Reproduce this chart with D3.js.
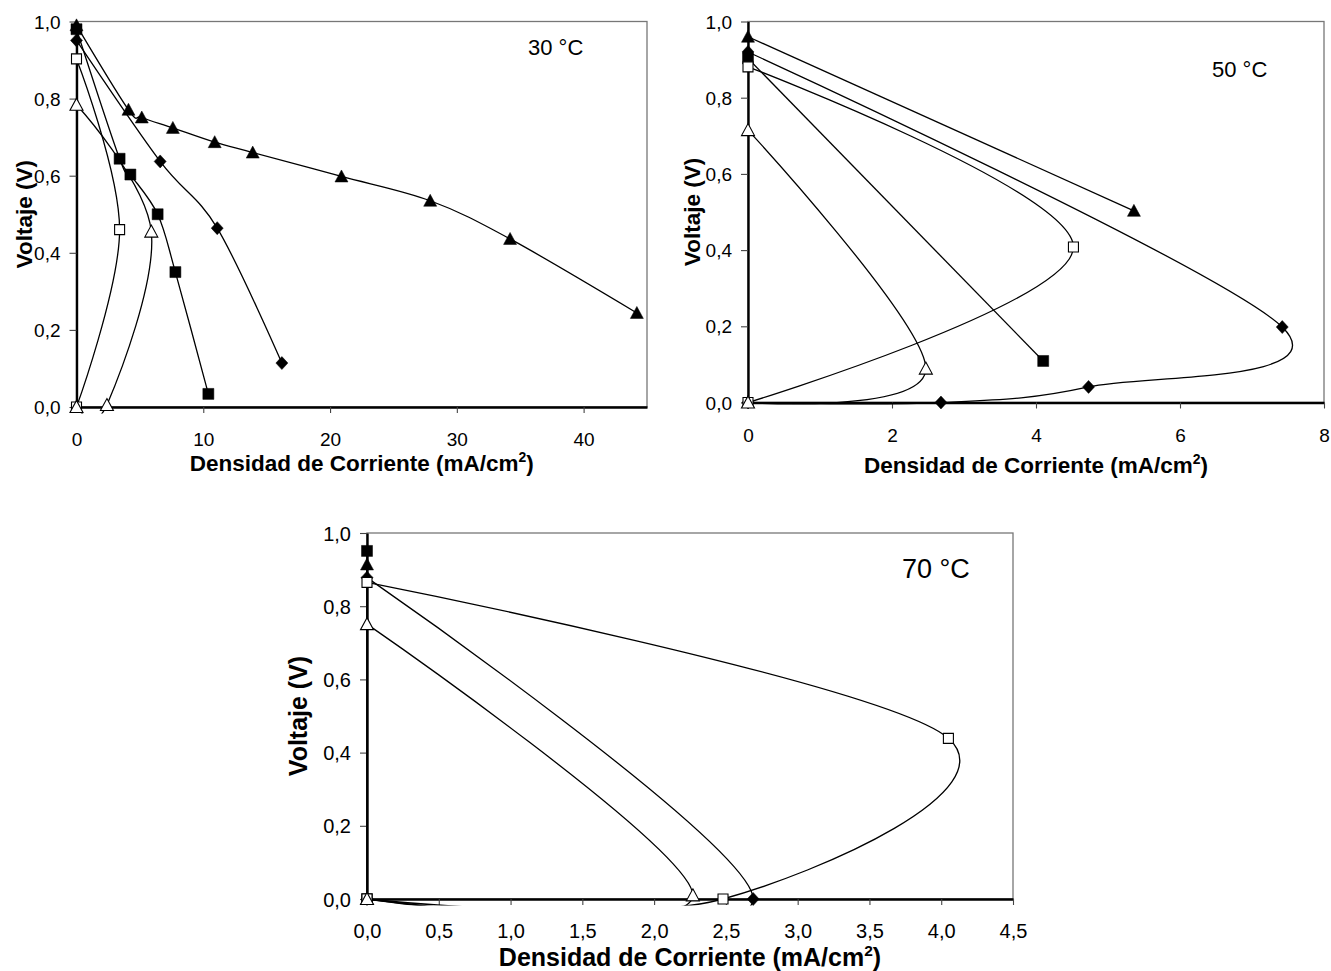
<!DOCTYPE html>
<html>
<head>
<meta charset="utf-8">
<script src="https://cdn.jsdelivr.net/npm/d3@7"></script>
<style>
  body { margin: 0; background: #fff; }
  svg { display: block; }
  svg text { font-family: "Liberation Sans", Arial, sans-serif; fill: #000; }
</style>
</head>
<body>
<svg id="fig" width="1331" height="971"></svg>
<script>
// voltage ticks, shared by the three panels
var voltTicks = [0, 0.2, 0.4, 0.6, 0.8, 1.0];

// 30 °C  -> [current density mA/cm2, voltage V]
var curTicks30 = [0, 10, 20, 30, 40];
var v30TriFull = [[0, 0.99], [4.1, 0.771], [5.15, 0.751], [7.6, 0.724], [10.9, 0.687], [13.9, 0.66], [20.9, 0.598], [27.9, 0.535], [34.2, 0.436], [44.2, 0.244]];
var v30Diamond = [[0, 0.951], [6.6, 0.637], [11.1, 0.464], [16.2, 0.114]];
var v30SqFull  = [[0, 0.98], [3.4, 0.644], [4.25, 0.603], [6.4, 0.50], [7.8, 0.35], [10.4, 0.034]];
var v30SqOpen  = [[0, 0.903], [3.4, 0.46], [0, 0]];
var v30TriOpen = [[0, 0.784], [5.9, 0.455], [2.4, 0.005], [0, 0]];

// 50 °C
var curTicks50 = [0, 2, 4, 6, 8];
var v50TriFull = [[0, 0.96], [5.36, 0.503]];
var v50Diamond = [[0, 0.92], [7.42, 0.198], [4.73, 0.041], [2.68, 0], [0, 0]];
var v50SqFull  = [[0, 0.903], [4.1, 0.109]];
var v50SqOpen  = [[0, 0.881], [4.52, 0.408], [0, 0]];
var v50TriOpen = [[0, 0.715], [2.47, 0.089], [0, 0]];

// 70 °C
var curTicks70 = [0, 0.5, 1.0, 1.5, 2.0, 2.5, 3.0, 3.5, 4.0, 4.5];
var v70SqFull  = [[0, 0.951], [0, 0]];
var v70TriFull = [[0, 0.914], [0, 0]];
var v70Diamond = [[0, 0.878], [2.69, 0], [0, 0]];
var v70SqOpen  = [[0, 0.865], [4.05, 0.439], [2.48, 0], [0, 0]];
var v70TriOpen = [[0, 0.751], [2.27, 0.01], [0, 0]];

var svg = d3.select("#fig");
var comma1 = function(d) { return d3.format(".1f")(d).replace(".", ","); };

var shapes = {
  square: "M-5.5,-5.5h11v11h-11Z",
  squareOpen: "M-5,-5h10v10h-10Z",
  triangle: "M0,-6.5L6.5,5.5L-6.5,5.5Z",
  diamond: "M0,-6.5L6,0L0,6.5L-6,0Z"
};

function seriesList(triFull, diamond, sqFull, sqOpen, triOpen) {
  return [
    {data: triFull, shape: "triangle", open: false},
    {data: diamond, shape: "diamond", open: false},
    {data: sqFull, shape: "square", open: false},
    {data: sqOpen, shape: "squareOpen", open: true},
    {data: triOpen, shape: "triangle", open: true}
  ];
}

var panels = [
  {id: "p30", label: "30 °C", labelX: 528, labelY: 55, labelSize: 22,
   left: 76.5, right: 647, top: 21.5, bottom: 407, xMax: 45,
   xTicks: curTicks30, xFormat: d3.format("d"),
   tickFont: 19, titleFont: 22.5, xTitleY: 471, yTitleX: 32,
   series: seriesList(v30TriFull, v30Diamond, v30SqFull, v30SqOpen, v30TriOpen)},
  {id: "p50", label: "50 °C", labelX: 1212, labelY: 77, labelSize: 22,
   left: 748, right: 1324, top: 21.5, bottom: 402.5, xMax: 8,
   xTicks: curTicks50, xFormat: d3.format("d"),
   tickFont: 19, titleFont: 22.5, xTitleY: 473, yTitleX: 700,
   series: seriesList(v50TriFull, v50Diamond, v50SqFull, v50SqOpen, v50TriOpen)},
  {id: "p70", label: "70 °C", labelX: 902, labelY: 578, labelSize: 27,
   left: 367, right: 1013, top: 533, bottom: 899, xMax: 4.5,
   xTicks: curTicks70, xFormat: comma1,
   tickFont: 20, titleFont: 25, xTitleY: 966, yTitleX: 307,
   series: seriesList(v70TriFull, v70Diamond, v70SqFull, v70SqOpen, v70TriOpen)}
];

function drawPanel(p) {
  var x = d3.scaleLinear().domain([0, p.xMax]).range([p.left, p.right]);
  var y = d3.scaleLinear().domain([0, 1]).range([p.bottom, p.top]);
  var g = svg.append("g").attr("class", "panel " + p.id);

  // lines are clipped a few px outside the plot area, like the original
  svg.append("clipPath").attr("id", "clip-" + p.id)
    .append("rect")
    .attr("x", p.left - 6).attr("y", p.top - 6)
    .attr("width", p.right - p.left + 12).attr("height", p.bottom - p.top + 12.5);

  g.append("rect")
    .attr("x", p.left).attr("y", p.top)
    .attr("width", p.right - p.left).attr("height", p.bottom - p.top)
    .attr("fill", "none").attr("stroke", "#777").attr("stroke-width", 1.3);

  var yAxis = g.append("g").attr("transform", "translate(" + p.left + ",0)")
    .call(d3.axisLeft(y).tickValues(voltTicks).tickSize(7).tickSizeOuter(0).tickPadding(9).tickFormat(comma1));
  var xAxis = g.append("g").attr("transform", "translate(0," + p.bottom + ")")
    .call(d3.axisBottom(x).tickValues(p.xTicks).tickSize(6).tickSizeOuter(0).tickFormat(p.xFormat));

  [yAxis, xAxis].forEach(function(a) {
    a.select(".domain").attr("stroke", "#000").attr("stroke-width", 2.4);
    a.selectAll(".tick line").attr("stroke", "#444").attr("stroke-width", 1.1);
    a.selectAll("text").attr("font-size", p.tickFont).attr("fill", "#000")
      .attr("font-family", "Liberation Sans, Arial, sans-serif");
  });
  yAxis.selectAll("text").attr("dy", "0.35em");
  xAxis.selectAll("text").attr("y", 39).attr("dy", null);

  var line = d3.line()
    .x(function(d) { return x(d[0]); })
    .y(function(d) { return y(d[1]); })
    .curve(d3.curveCardinal.tension(0));

  var lines = g.append("g").attr("clip-path", "url(#clip-" + p.id + ")");
  p.series.forEach(function(s) {
    if (s.data.length > 1) {
      lines.append("path").attr("d", line(s.data))
        .attr("fill", "none").attr("stroke", "#000").attr("stroke-width", 1.3);
    }
  });

  p.series.forEach(function(s) {
    g.append("g").selectAll("path").data(s.data).enter().append("path")
      .attr("d", shapes[s.shape])
      .attr("transform", function(d) { return "translate(" + x(d[0]) + "," + y(d[1]) + ")"; })
      .attr("fill", s.open ? "#fff" : "#000")
      .attr("stroke", "#000")
      .attr("stroke-width", s.open ? 1.1 : 0.5);
  });

  // axis titles
  var xt = g.append("text")
    .attr("x", (p.left + p.right) / 2).attr("y", p.xTitleY)
    .attr("text-anchor", "middle").attr("font-weight", "bold").attr("font-size", p.titleFont);
  xt.append("tspan").text("Densidad de Corriente (mA/cm");
  xt.append("tspan").attr("dy", -0.42 * p.titleFont).attr("font-size", p.titleFont * 0.62).text("2");
  xt.append("tspan").attr("dy", 0.42 * p.titleFont).text(")");

  g.append("text")
    .attr("transform", "translate(" + p.yTitleX + "," + ((p.top + p.bottom) / 2) + ") rotate(-90)")
    .attr("text-anchor", "middle").attr("font-weight", "bold").attr("font-size", p.titleFont)
    .text("Voltaje (V)");

  g.append("text")
    .attr("x", p.labelX).attr("y", p.labelY)
    .attr("font-size", p.labelSize)
    .text(p.label);
}

panels.forEach(drawPanel);
</script>
</body>
</html>
